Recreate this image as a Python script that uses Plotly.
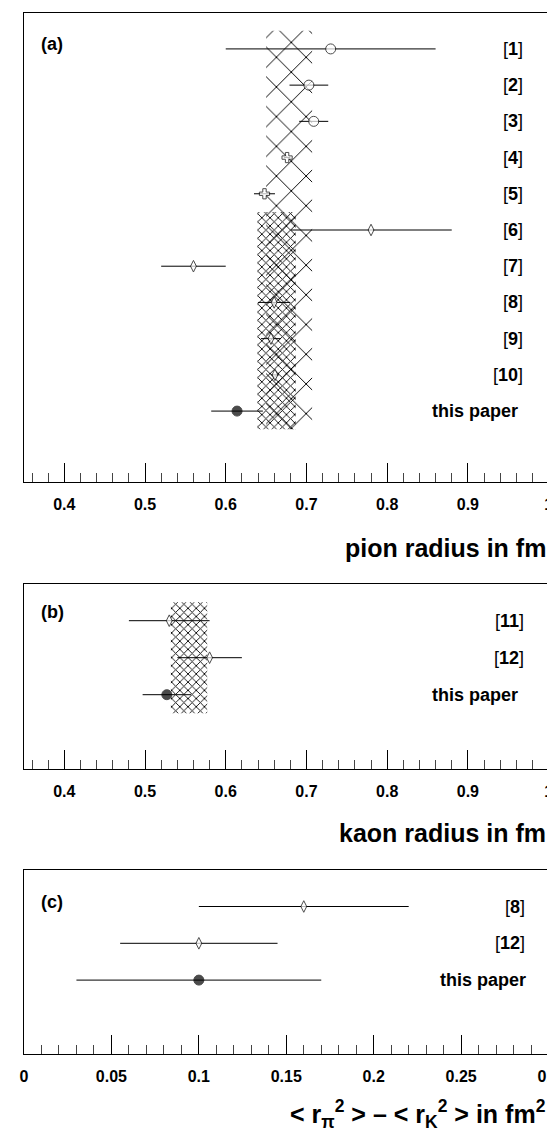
import plotly.graph_objects as go

# ---------------- data ----------------
pion_refs = ["1", "2", "3", "4", "5", "6", "7", "8", "9", "10", "this paper"]
pion_vals = [0.73, 0.703, 0.709, 0.676, 0.648, 0.78, 0.56, 0.66, 0.656, 0.661, 0.614]
pion_errs = [0.13, 0.024, 0.018, 0.004, 0.013, 0.10, 0.04, 0.02, 0.0125, 0.005, 0.032]
pion_syms = ["circle", "circle", "circle", "cross", "cross", "diamond-tall", "diamond-tall",
             "diamond-tall", "diamond-tall", "diamond-tall", "circle"]
pion_fill = ["white"] * 10 + ["black"]
pion_band_lo = [0.650, 0.639]
pion_band_hi = [0.707, 0.687]
pion_band_row0 = [0.5, 5.5]
pion_band_row1 = [11.5, 11.5]

kaon_refs = ["11", "12", "this paper"]
kaon_vals = [0.53, 0.58, 0.527]
kaon_errs = [0.05, 0.04, 0.03]
kaon_syms = ["diamond-tall", "diamond-tall", "circle"]
kaon_fill = ["white", "white", "black"]
kaon_band_lo = [0.532]
kaon_band_hi = [0.577]
kaon_band_row0 = [0.5]
kaon_band_row1 = [3.5]

diff_refs = ["8", "12", "this paper"]
diff_vals = [0.16, 0.10, 0.10]
diff_errs = [0.06, 0.045, 0.07]
diff_syms = ["diamond-tall", "diamond-tall", "circle"]
diff_fill = ["white", "white", "black"]

panel_tags = ["(a)", "(b)", "(c)"]
axis_titles = ["pion radius in fm", "kaon radius in fm",
               "&lt; r<sub>π</sub><sup>2</sup> &gt; – &lt; r<sub>K</sub><sup>2</sup> &gt; in fm<sup>2</sup>"]

# ---------------- styling ----------------
W, H = 555, 1131
FONT = "Liberation Sans, Arial, Helvetica, sans-serif"
xdom = [12.3 / W, 551.5 / W]
SPARSE = dict(shape="x", size=21, solidity=0.09)
DENSE = dict(shape="x", size=5.8, solidity=0.28)
pion_band_style = [SPARSE, DENSE]
kaon_band_style = [DENSE]
MSIZE = {"circle": 10, "cross": 8.5, "diamond-tall": 8.3}


def ydom(top_px, bot_px):
    return [1 - bot_px / H, 1 - top_px / H]


fig = go.Figure()

panels = [
    dict(refs=pion_refs, vals=pion_vals, errs=pion_errs, syms=pion_syms, fill=pion_fill,
         band=(pion_band_lo, pion_band_hi, pion_band_row0, pion_band_row1, pion_band_style),
         xr=[0.35, 1.0], dtick=0.1, minor=0.02, yr=[12.95, 0], dom=ydom(4.7, 473.7),
         lab_x=[527] * 10 + [522], tag_y=0.86, title_y=540),
    dict(refs=kaon_refs, vals=kaon_vals, errs=kaon_errs, syms=kaon_syms, fill=kaon_fill,
         band=(kaon_band_lo, kaon_band_hi, kaon_band_row0, kaon_band_row1, kaon_band_style),
         xr=[0.35, 1.0], dtick=0.1, minor=0.02, yr=[5, 0], dom=ydom(575.7, 760.7),
         lab_x=[528, 528, 522], tag_y=0.76, title_y=825),
    dict(refs=diff_refs, vals=diff_vals, errs=diff_errs, syms=diff_syms, fill=diff_fill,
         band=None,
         xr=[0.0, 0.3], dtick=0.05, minor=0.01, yr=[5, 0], dom=ydom(861.7, 1045.7),
         lab_x=[529, 529, 530], tag_y=0.865, title_y=1106),
]

annotations = []
for i, p in enumerate(panels):
    xa = "x" if i == 0 else f"x{i+1}"
    ya = "y" if i == 0 else f"y{i+1}"
    rows = list(range(1, len(p["vals"]) + 1))
    if p["band"] is not None:
        lo, hi, r0, r1, st = p["band"]
        for j in range(len(lo)):
            fig.add_trace(go.Bar(
                orientation="h", base=[lo[j]], x=[hi[j] - lo[j]],
                y=[(r0[j] + r1[j]) / 2], width=[r1[j] - r0[j]],
                xaxis=xa, yaxis=ya, showlegend=False, hoverinfo="skip",
                marker=dict(color="rgba(0,0,0,0)", line=dict(width=0),
                            pattern=dict(**st[j], fgcolor="black",
                                         bgcolor="rgba(0,0,0,0)", fgopacity=1)),
            ))
    fig.add_trace(go.Scatter(
        x=p["vals"], y=rows, mode="markers", xaxis=xa, yaxis=ya, showlegend=False,
        error_x=dict(type="data", array=p["errs"], visible=True, width=0,
                     thickness=1, color="black"),
        marker=dict(symbol=p["syms"], color=p["fill"],
                    size=[MSIZE[s] for s in p["syms"]],
                    line=dict(color="black", width=1)),
    ))
    axis_common = dict(showline=True, linecolor="black", linewidth=1.3, mirror=True,
                       showgrid=False, zeroline=False)
    fig.update_layout(**{
        ("xaxis" if i == 0 else f"xaxis{i+1}"): dict(
            **axis_common, domain=xdom, range=p["xr"], anchor=ya,
            ticks="inside", ticklen=19, tickwidth=1, tickcolor="black",
            dtick=p["dtick"], tick0=0, ticklabeloverflow="allow",
            ticklabelstandoff=8,
            tickfont=dict(family=FONT, size=16, color="black", weight="bold"),
            minor=dict(dtick=p["minor"], tick0=0, ticks="inside", ticklen=9,
                       tickwidth=1, tickcolor="#444", showgrid=False),
        ),
        ("yaxis" if i == 0 else f"yaxis{i+1}"): dict(
            **axis_common, domain=p["dom"], range=p["yr"], anchor=xa,
            showticklabels=False, ticks="",
        ),
    })
    for j, r in enumerate(p["refs"]):
        txt = "<b>this paper</b>" if r == "this paper" else f"[<b>{r}</b>]"
        annotations.append(dict(
            x=p["lab_x"][j] / W, xref="paper", y=rows[j], yref=ya,
            text=txt, showarrow=False, xanchor="right", yanchor="middle",
            font=dict(family=FONT, size=18, color="black"),
        ))
    annotations.append(dict(
        x=28 / W, xref="paper", y=p["tag_y"], yref=ya, text=f"<b>{panel_tags[i]}</b>",
        showarrow=False, xanchor="left", yanchor="middle",
        font=dict(family=FONT, size=18, color="black"),
    ))
    annotations.append(dict(
        x=551 / W, xref="paper", y=1 - p["title_y"] / H, yref="paper",
        text=f"<b>{axis_titles[i]}</b>", showarrow=False, xanchor="right", yanchor="middle",
        font=dict(family=FONT, size=25, color="black"),
    ))

fig.update_layout(
    width=W, height=H, margin=dict(l=0, r=0, t=0, b=0),
    paper_bgcolor="white", plot_bgcolor="white",
    barmode="overlay", annotations=annotations, showlegend=False,
)

fig.write_html("out.html")
